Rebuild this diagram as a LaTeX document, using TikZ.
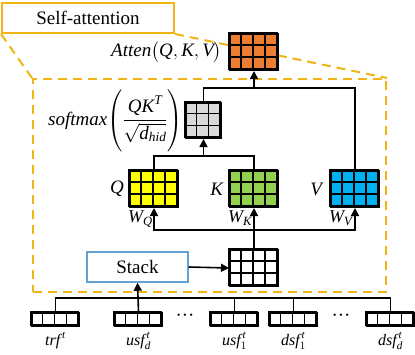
\documentclass[tikz,border=0pt]{standalone}
\usepackage{fix-cm}
\usepackage{amsmath}
\usepackage{fontspec}
\setmainfont{Liberation Serif}
\usepackage{tikz}
\usetikzlibrary{calc, positioning, arrows.meta}

\definecolor{gold}{RGB}{240,180,20}
\definecolor{attorange}{RGB}{237,125,49}
\definecolor{qyellow}{RGB}{255,255,0}
\definecolor{kgreen}{RGB}{146,208,80}
\definecolor{vblue}{RGB}{0,176,240}
\definecolor{smgray}{RGB}{217,217,217}
\definecolor{stackblue}{RGB}{100,160,210}

% feature map: name, top-left x, top-left y, cols, rows, cell width, cell height, fill
\newcommand{\featmap}[8]{%
    \foreach \c in {1,...,#4}{\foreach \r in {1,...,#5}{
        \draw[cellline, fill=#8] ({#2+(\c-1)*#6},{#3+(\r-1)*#7}) rectangle ++(#6,#7);}}
    \node[mapbox, minimum width=#4*#6pt, minimum height=#5*#7pt, anchor=north west] (#1) at (#2,#3) {};
}

\begin{document}
\begin{tikzpicture}[x=1pt, y=-1pt,
        line/.style={line width=1.6pt},
        arrow/.style={line, -{Triangle[length=8pt, width=8pt]}},
        mapbox/.style={draw, line width=2pt, inner sep=0pt},
        cellline/.style={line width=1.2pt},
        titlebox/.style={draw=gold, line width=2pt, minimum width=172pt, minimum height=30pt, font=\fontsize{19}{22}\selectfont},
        framebox/.style={draw=gold, line width=2pt, dash pattern=on 9pt off 6pt, minimum width=353pt, minimum height=213pt},
        stackbox/.style={draw=stackblue, line width=1.5pt, fill=white, minimum width=101pt, minimum height=30pt, font=\fontsize{19}{22}\selectfont},
        lbl/.style={inner sep=1pt, font=\fontsize{19}{22}\selectfont},
        wlbl/.style={inner sep=0pt, font=\fontsize{18}{20}\selectfont},
        veclbl/.style={inner sep=0pt, font=\fontsize{16}{18}\selectfont},
        dotlbl/.style={inner sep=0pt, font=\fontsize{19}{22}\selectfont}
    ]
    \useasboundingbox (0,0) rectangle (415,354);

    % Frames
    \node[titlebox] (title) at (88,18) {Self-attention};
    \node[framebox] (frame) at (209.5,185.5) {};
    \draw[gold, line width=2pt, dash pattern=on 9pt off 6pt] (title.south west) -- (frame.north west);
    \draw[gold, line width=2pt, dash pattern=on 9pt off 6pt] (title.south east) -- (frame.north east);

    % Feature maps
    \featmap{atten}{229}{33}{4}{3}{12}{12}{attorange}
    \featmap{soft}{185}{102}{3}{3}{11.67}{11.67}{smgray}
    \featmap{qmap}{129}{170}{4}{3}{12}{12}{qyellow}
    \featmap{kmap}{229}{170}{4}{3}{12}{12}{kgreen}
    \featmap{vmap}{330}{170}{4}{3}{12}{12}{vblue}
    \featmap{stackmap}{229}{249}{4}{3}{12}{12}{white}

    % Input vectors
    \featmap{trf}{31}{312}{4}{1}{11.75}{13}{white}
    \featmap{usfd}{114}{312}{4}{1}{11.75}{13}{white}
    \featmap{usfa}{210}{312}{4}{1}{11.75}{13}{white}
    \featmap{dsfa}{269}{312}{4}{1}{11.75}{13}{white}
    \featmap{dsfd}{366}{312}{4}{1}{11.75}{13}{white}
    \node[dotlbl] (dotsu) at (185,318) {···};
    \node[dotlbl] (dotsd) at (341,318) {···};

    % Stack
    \node[stackbox] (stack) at (137.5,267) {Stack};

    % Labels
    \node[lbl, left=6pt of atten] (attenlbl) {$\textit{Atten}\bigl(\textit{Q}, \textit{K}, \textit{V}\bigr)$};
    \node[lbl, left=1pt of soft] (softlbl) {$\textit{softmax}\Biggl(\dfrac{\textit{QK}^{\textit{T}}}{\sqrt{\textit{d}_{\textit{hid}}}}\Biggr)$};
    \node[lbl, left=4pt of qmap] (qlbl) {\textit{Q}};
    \node[lbl, left=4pt of kmap] (klbl) {\textit{K}};
    \node[lbl, left=5pt of vmap] (vlbl) {\textit{V}};
    \node[wlbl, anchor=north west] (wq) at ([xshift=-1pt, yshift=-3pt]qmap.south west) {$\textit{W}_{\textit{Q}}$};
    \node[wlbl, anchor=north west] (wk) at ([xshift=-1pt, yshift=-3pt]kmap.south west) {$\textit{W}_{\textit{K}}$};
    \node[wlbl, anchor=north west] (wv) at ([xshift=-1pt, yshift=-3pt]vmap.south west) {$\textit{W}_{\textit{V}}$};
    \node[veclbl, below=5pt of trf] (trflbl) {$\textit{trf}^{\,\textit{t}}$};
    \node[veclbl, below=5pt of usfd] (usfdlbl) {$\textit{usf}^{\,\textit{t}}_{\textit{d}}$};
    \node[veclbl, below=5pt of usfa] (usfalbl) {$\textit{usf}^{\,\textit{t}}_{1}$};
    \node[veclbl, below=5pt of dsfa] (dsfalbl) {$\textit{dsf}^{\,\textit{t}}_{1}$};
    \node[veclbl, below=5pt of dsfd] (dsfdlbl) {$\textit{dsf}^{\,\textit{t}}_{\textit{d}}$};

    % Bus coordinates
    \coordinate (busatt) at ([yshift=-17pt]atten.south);
    \coordinate (bussoft) at ([yshift=-17pt]soft.south);
    \coordinate (busw) at ([yshift=-22pt]kmap.south);
    \coordinate (busin) at ([yshift=-15pt]stack.south);

    % Connectors
    \draw[line] (soft.north) |- (busatt) -| (vmap.north);
    \draw[arrow] (busatt) -- (atten.south);
    \draw[line] (qmap.north) |- (bussoft) -| (kmap.north);
    \draw[arrow] (bussoft) -- (soft.south);
    \draw[arrow] (stackmap.north) -- (kmap.south);
    \draw[arrow] (busw) -| (qmap.south);
    \draw[arrow] (busw) -| (vmap.south);
    \draw[arrow] (stack.east) -- (stackmap.west);
    \draw[line] (trf.north) |- (dsfd.north |- busin) -- (dsfd.north);
    \draw[line] (usfa.north) -- (usfa.north |- busin);
    \draw[line] (dsfa.north) -- (dsfa.north |- busin);
    \draw[arrow] (usfd.north) -- (stack.south);
\end{tikzpicture}
\end{document}
